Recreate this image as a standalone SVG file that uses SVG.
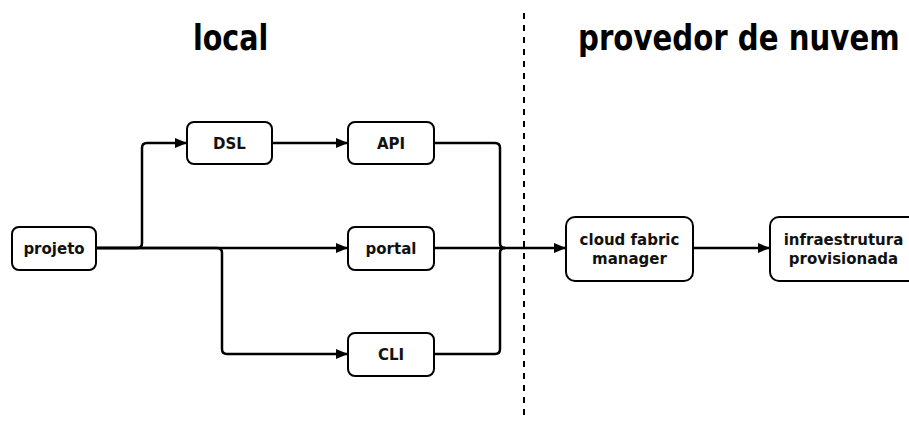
<svg xmlns="http://www.w3.org/2000/svg" width="909" height="421" viewBox="0 0 909 421">
  <defs>
    <marker id="arrow" viewBox="0 0 12 10" refX="12" refY="5" markerWidth="12" markerHeight="10" markerUnits="userSpaceOnUse" orient="auto">
      <path d="M0,0 L12,5 L0,10 Z" fill="#000"/>
    </marker>
    <style>
      .box { fill: #fff; stroke: #000; stroke-width: 2; }
      .label { font-family: "DejaVu Sans", Verdana, sans-serif; font-weight: bold; font-size: 15px; fill: #111; text-anchor: middle; }
      .title { font-family: "DejaVu Sans", Tahoma, sans-serif; font-weight: bold; font-size: 35px; fill: #000; }
      .wire { fill: none; stroke: #000; stroke-width: 2.5; }
      .arrowed { marker-end: url(#arrow); }
      .divider { fill: none; stroke: #000; stroke-width: 2; stroke-dasharray: 6 6; }
    </style>
  </defs>
  <rect width="909" height="421" fill="#fff"/>

  <!-- section headings (horizontally narrowed) and the boundary between them -->
  <g id="headings">
    <text class="title" transform="translate(193,50) scale(0.815,1)">local</text>
    <text class="title" transform="translate(578,50) scale(0.835,1)">provedor de nuvem</text>
  </g>
  <line class="divider" x1="524" y1="13" x2="524" y2="421"/>

  <!-- connectors -->
  <g id="connectors">
    <path class="wire arrowed" d="M96,248 H137 Q142,248 142,243 V148 Q142,143 147,143 H187"/>
    <path class="wire arrowed" d="M96,248 H348"/>
    <path class="wire arrowed" d="M96,248 H217 Q222,248 222,253 V349 Q222,354 227,354 H348"/>
    <path class="wire arrowed" d="M272,143 H348"/>
    <path class="wire" d="M434,143 H495 Q500,143 500,148 V243 Q500,248 505,248"/>
    <path class="wire" d="M434,354 H495 Q500,354 500,349 V253 Q500,248 505,248"/>
    <path class="wire arrowed" d="M434,248 H566"/>
    <path class="wire arrowed" d="M693,248 H770"/>
  </g>

  <!-- nodes -->
  <g id="projeto">
    <rect class="box" x="12" y="227" width="84" height="43" rx="7"/>
    <text class="label" x="54" y="254">projeto</text>
  </g>
  <g id="dsl">
    <rect class="box" x="187" y="122" width="85" height="42" rx="7"/>
    <text class="label" x="229.5" y="149">DSL</text>
  </g>
  <g id="api">
    <rect class="box" x="348" y="122" width="86" height="42" rx="7"/>
    <text class="label" x="391" y="149">API</text>
  </g>
  <g id="portal">
    <rect class="box" x="348" y="227" width="86" height="43" rx="7"/>
    <text class="label" x="391" y="254">portal</text>
  </g>
  <g id="cli">
    <rect class="box" x="348" y="333" width="86" height="43" rx="7"/>
    <text class="label" x="391" y="360">CLI</text>
  </g>
  <g id="cloud-fabric-manager">
    <rect class="box" x="566" y="217" width="127" height="64" rx="9"/>
    <text class="label" x="629.5" y="245">cloud fabric</text>
    <text class="label" x="629.5" y="264">manager</text>
  </g>
  <g id="infraestrutura-provisionada">
    <rect class="box" x="770" y="217" width="147" height="64" rx="9"/>
    <text class="label" x="843.5" y="245">infraestrutura</text>
    <text class="label" x="843.5" y="264">provisionada</text>
  </g>
</svg>
